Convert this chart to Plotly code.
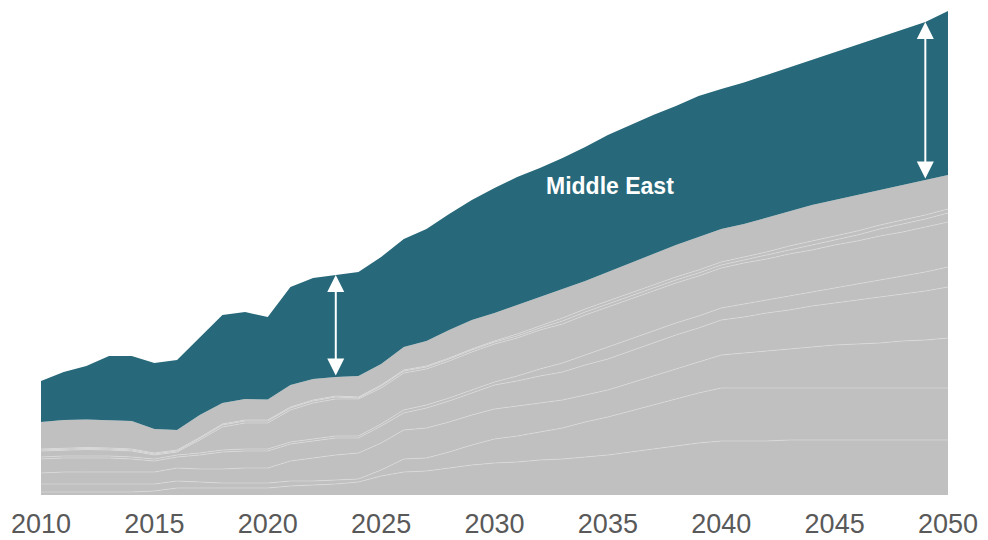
import plotly.graph_objects as go

years = list(range(2010, 2051))
tick_years = [2010, 2015, 2020, 2025, 2030, 2035, 2040, 2045, 2050]
tick_labels = [str(y) for y in tick_years]

# Other producing regions, stacked bottom to top
region_1 = [0.6, 0.6, 0.6, 0.6, 0.6, 0.8, 1.4, 1.4, 1.4, 1.4, 1.4, 1.8, 2.0, 2.2, 2.6, 3.8, 4.6, 4.8, 5.4, 6.0,
            6.4, 6.6, 7.0, 7.2, 7.6, 8.0, 8.6, 9.2, 9.8, 10.4, 10.8, 10.8, 10.8, 11.0, 11.0, 11.0, 11.0, 11.0, 11.0, 11.0, 11.0]
region_2 = [1.6, 1.6, 1.6, 1.6, 1.6, 1.4, 1.4, 1.2, 1.0, 1.0, 1.0, 1.0, 0.8, 0.8, 0.6, 1.2, 2.6, 2.6, 3.2, 4.0,
            4.8, 5.2, 5.6, 6.2, 7.0, 7.6, 8.2, 8.8, 9.4, 10.0, 10.6, 10.6, 10.6, 10.4, 10.4, 10.4, 10.4, 10.4, 10.4, 10.4, 10.4]
region_3 = [2.2, 2.4, 2.4, 2.4, 2.4, 2.4, 2.6, 2.6, 2.8, 3.0, 3.0, 4.0, 4.6, 5.0, 5.2, 5.4, 5.8, 6.0, 6.0, 6.0,
            6.0, 6.0, 5.8, 5.6, 5.4, 5.4, 5.6, 5.8, 6.0, 6.2, 6.6, 7.0, 7.4, 7.8, 8.2, 8.6, 8.8, 9.0, 9.4, 9.6, 10.0]
region_4 = [2.8, 2.8, 2.8, 2.8, 2.6, 2.2, 2.2, 2.8, 3.4, 3.4, 3.4, 3.4, 3.4, 3.4, 3.0, 3.4, 3.4, 4.0, 4.2, 4.4,
            4.8, 5.0, 5.4, 5.6, 6.0, 6.2, 6.4, 6.6, 6.8, 6.8, 7.0, 7.2, 7.6, 7.8, 8.2, 8.4, 8.8, 9.2, 9.4, 9.8, 10.2]
region_5 = [0.4, 0.4, 0.4, 0.4, 0.4, 0.4, 0.4, 0.4, 0.4, 0.4, 0.4, 0.4, 0.4, 0.4, 0.4, 0.4, 0.6, 0.6, 0.6, 0.6,
            0.6, 1.0, 1.4, 1.8, 2.0, 2.4, 2.4, 2.4, 2.4, 2.4, 2.4, 2.6, 2.6, 2.8, 2.8, 3.0, 3.2, 3.4, 3.6, 3.8, 4.0]
region_6 = [1.2, 1.2, 1.3, 1.2, 1.2, 0.8, 0.6, 2.6, 4.6, 5.2, 5.2, 6.4, 7.2, 7.4, 7.4, 7.2, 7.4, 7.2, 7.4, 7.6,
            7.6, 7.6, 7.8, 7.8, 8.0, 8.0, 8.0, 8.0, 8.0, 8.0, 8.0, 8.2, 8.2, 8.4, 8.4, 8.6, 8.6, 8.8, 8.8, 9.0, 9.0]
region_7 = [0.2, 0.2, 0.2, 0.2, 0.2, 0.2, 0.2, 0.3, 0.4, 0.4, 0.4, 0.4, 0.4, 0.4, 0.2, 0.4, 0.4, 0.4, 0.4, 0.4,
            0.4, 0.4, 0.4, 0.6, 0.6, 0.6, 0.6, 0.6, 0.6, 0.6, 0.6, 0.6, 0.8, 0.8, 1.0, 1.0, 1.2, 1.4, 1.6, 1.6, 1.8]
region_8 = [0.2, 0.2, 0.2, 0.2, 0.2, 0.2, 0.2, 0.2, 0.2, 0.2, 0.2, 0.2, 0.2, 0.2, 0.2, 0.2, 0.2, 0.2, 0.2, 0.2,
            0.2, 0.4, 0.4, 0.6, 0.6, 0.6, 0.6, 0.6, 0.6, 0.6, 0.6, 0.6, 0.6, 0.8, 0.8, 0.8, 0.8, 0.8, 0.8, 0.8, 0.8]
region_9 = [5.4, 5.6, 5.6, 5.6, 5.6, 4.8, 4.0, 4.5, 4.2, 4.2, 4.1, 4.4, 4.2, 3.8, 4.2, 4.2, 4.6, 5.0, 5.6, 5.8,
            5.6, 5.8, 5.8, 5.8, 5.6, 5.8, 6.0, 6.2, 6.4, 6.6, 6.6, 6.6, 6.9, 7.0, 7.2, 7.2, 7.2, 7.0, 7.0, 7.0, 6.8]
middle_east = [8.2, 9.6, 10.7, 12.8, 13.0, 13.2, 14.0, 15.4, 17.6, 17.4, 16.5, 19.6, 20.2, 20.4, 20.8, 21.4, 21.6, 22.4, 23.2, 24.0,
               25.0, 25.6, 25.8, 26.2, 26.8, 27.4, 27.6, 27.8, 27.8, 28.2, 28.0, 28.3, 28.5, 28.7, 29.0, 29.5, 30.0, 30.6, 31.1, 31.6, 32.8]

other_regions = [region_1, region_2, region_3, region_4, region_5, region_6, region_7, region_8, region_9]

GREY = "#c0c0c0"
TEAL = "#27697a"

fig = go.Figure()
for i, series in enumerate(other_regions):
    last = i == len(other_regions) - 1
    fig.add_trace(go.Scatter(
        x=years, y=series, stackgroup="all", mode="lines",
        line=dict(color="rgba(225,225,225,0.85)", width=0 if last else 0.6),
        fillcolor=GREY, hoverinfo="skip", showlegend=False,
    ))
fig.add_trace(go.Scatter(
    x=years, y=middle_east, stackgroup="all", mode="lines",
    line=dict(color=TEAL, width=0), fillcolor=TEAL, name="Middle East", showlegend=False,
))

# Gap markers: Middle East slice today and in 2049
base_2023 = sum(s[years.index(2023)] for s in other_regions)
top_2023 = base_2023 + middle_east[years.index(2023)]
base_2049 = sum(s[years.index(2049)] for s in other_regions)
top_2049 = base_2049 + middle_east[years.index(2049)]
for yr, lo, hi in [(2023, base_2023, top_2023), (2049, base_2049, top_2049)]:
    fig.add_annotation(
        x=yr, y=hi, ax=yr, ay=lo, xref="x", yref="y", axref="x", ayref="y",
        text="", showarrow=True, arrowhead=2, arrowside="end+start",
        arrowsize=1.7, arrowwidth=2, arrowcolor="white",
    )

fig.add_annotation(
    x=2035.1, y=61.8, text="<b>Middle East</b>", showarrow=False,
    font=dict(family="Liberation Sans, Arial, sans-serif", size=23, color="white"),
)

fig.update_layout(
    width=988, height=540,
    margin=dict(l=41, r=40, t=5, b=45),
    paper_bgcolor="white", plot_bgcolor="white",
    xaxis=dict(
        range=[2010, 2050], tickvals=tick_years, ticktext=tick_labels,
        showgrid=False, zeroline=False, showline=False, ticks="",
        ticklabelstandoff=10, automargin=False,
        tickfont=dict(family="Liberation Sans Narrow, Liberation Sans, Arial, sans-serif", size=27, color="#595959"),
    ),
    yaxis=dict(range=[0, 98], visible=False, automargin=False),
)

fig.write_html("out.html")
